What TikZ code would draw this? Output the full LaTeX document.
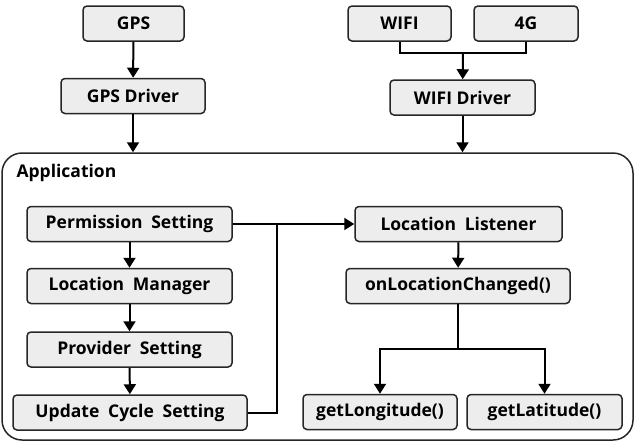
\documentclass[tikz,border=0pt]{standalone}
\usepackage{fontspec}
\setmainfont{Open Sans}
\usetikzlibrary{arrows.meta}

\begin{document}
\begin{tikzpicture}[x=1pt,y=-1pt,
box/.style={draw=black!85,fill=black!7,rounded corners=4pt,line width=1.5pt,
  inner sep=0pt,minimum height=35pt,font=\bfseries\fontsize{17.5}{20}\selectfont},
link/.style={line width=2pt},
arr/.style={link,-{Triangle[length=10pt,width=12pt]}}]

\useasboundingbox (0,0) rectangle (635,442);

% sources and drivers
\node[box,minimum width=101pt] (gps) at (133.5,23.5) {GPS};
\node[box,minimum width=144pt] (gpsdrv) at (133,96) {GPS Driver};
\node[box,minimum width=103pt] (wifi) at (399.5,23.5) {WIFI};
\node[box,minimum width=104pt] (fourg) at (526,23.5) {4G};
\node[box,minimum width=145pt] (wifidrv) at (462.5,97.5) {WIFI Driver};

% application frame
\node[draw=black!85,line width=1.5pt,rounded corners=20pt,
  minimum width=631pt,minimum height=287pt] (app) at (317.5,296.5) {};
\node[anchor=west,font=\bfseries\fontsize{17.5}{20}\selectfont] (applbl) at (13,173) {Application};

% left column
\node[box,minimum width=205pt] (perm) at (129.5,224) {Permission\enspace Setting};
\node[box,minimum width=205pt] (locman) at (129.5,286) {Location\enspace Manager};
\node[box,minimum width=205pt] (provider) at (129.5,349.5) {Provider\enspace Setting};
\node[box,minimum width=234pt] (update) at (130,412.5) {Update\enspace Cycle\enspace Setting};

% right column
\node[box,minimum width=207pt] (listener) at (458.5,224) {Location\enspace Listener};
\node[box,minimum width=224pt] (changed) at (458,286) {onLocationChanged()};
\node[box,minimum width=154pt] (lon) at (380,412) {getLongitude()};
\node[box,minimum width=155pt] (lat) at (544.5,412) {getLatitude()};

\coordinate (join) at (463,53);
\coordinate (bus) at (277,224);
\coordinate (fork) at (458,349);

\draw[arr] (gps) -- (gpsdrv);
\draw[arr] (gpsdrv) -- (gpsdrv |- app.north);
\draw[link] (wifi.south) |- (join) -| (fourg.south);
\draw[arr] (join) -- (wifidrv);
\draw[arr] (wifidrv) -- (wifidrv |- app.north);

\draw[arr] (perm) -- (locman);
\draw[arr] (locman) -- (provider);
\draw[arr] (provider) -- (update);
\draw[link] (update) -| (bus);
\draw[arr] (perm) -- (listener);

\draw[arr] (listener) -- (changed);
\draw[link] (changed) -- (fork);
\draw[arr] (fork) -| (lon);
\draw[arr] (fork) -| (lat);

\end{tikzpicture}
\end{document}
